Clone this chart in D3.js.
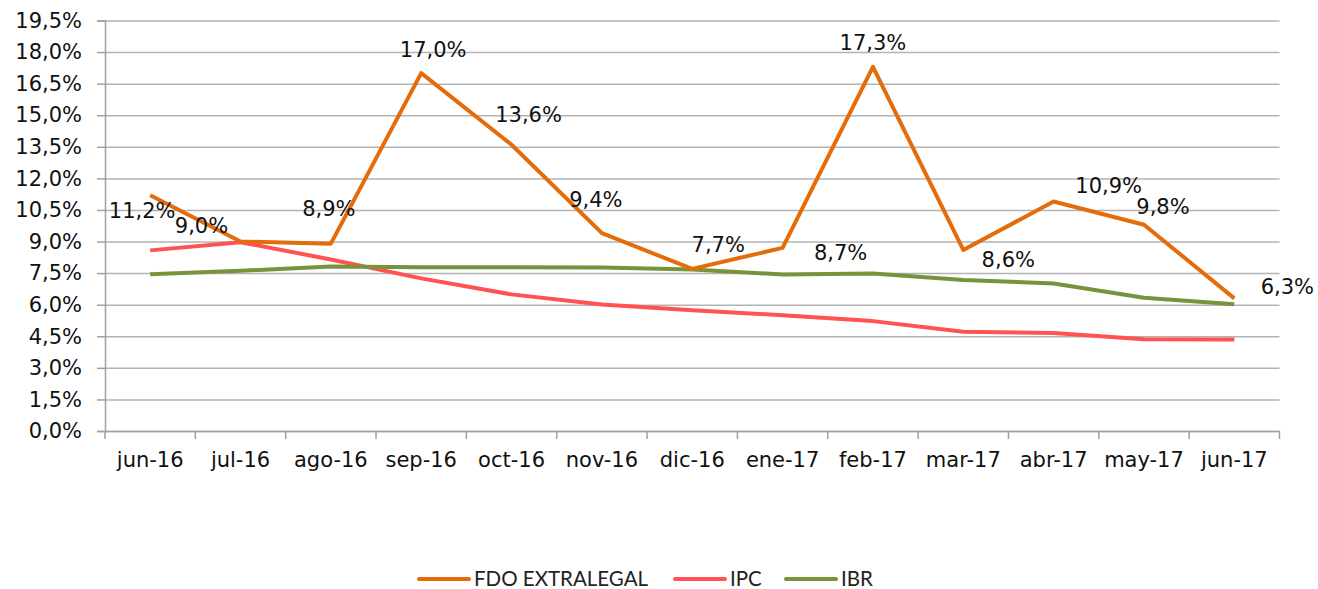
<!DOCTYPE html>
<html>
<head>
<meta charset="utf-8">
<script src="https://cdn.jsdelivr.net/npm/d3@7"></script>
<style>
  html, body { margin: 0; padding: 0; background: #fff; }
  svg { display: block; }
</style>
</head>
<body>
<div id="chart"></div>
<script>
// months on the category axis
const months = ['jun-16', 'jul-16', 'ago-16', 'sep-16', 'oct-16', 'nov-16', 'dic-16',
    'ene-17', 'feb-17', 'mar-17', 'abr-17', 'may-17', 'jun-17'];

// yearly returns / rates, in %
const fdoValues = [11.2, 9.0, 8.9, 17.0, 13.6, 9.4, 7.7, 8.7, 17.3, 8.6, 10.9, 9.8, 6.3];
const ipcValues = [8.58, 8.97, 8.15, 7.25, 6.49, 6.01, 5.74, 5.50, 5.22, 4.71, 4.66, 4.36, 4.35];
const ibrValues = [7.45, 7.61, 7.82, 7.78, 7.78, 7.77, 7.67, 7.44, 7.48, 7.17, 7.01, 6.33, 6.02];

const yTicks = [0, 1.5, 3, 4.5, 6, 7.5, 9, 10.5, 12, 13.5, 15, 16.5, 18, 19.5];

const seriesNames = ['FDO EXTRALEGAL', 'IPC', 'IBR'];
const seriesColors = ['#E46C0A', '#FF5353', '#77933C'];

// hand placed data labels in the original (offset from the point, px)
const labelOffsets = [[-8, 15], [-39, -16], [-2, -35], [12, -23], [17, -30], [-6, -33],
    [26, -24], [58, 5], [0, -24], [45, 10], [55, -16], [19, -18], [53, -12]];

const W = 1318, H = 589;
const margin = { top: 20.5, right: 38.5, bottom: 158, left: 105 };
const iw = W - margin.left - margin.right;
const ih = H - margin.top - margin.bottom;

const fmt = v => v.toFixed(1).replace('.', ',') + '%';
const FONT = "'DejaVu Sans', Verdana, sans-serif";
const FS = 21;

const svg = d3.select('#chart').append('svg')
    .attr('width', W).attr('height', H)
    .style('font-family', FONT);

const g = svg.append('g').attr('transform', `translate(${margin.left},${margin.top})`);

const x = d3.scaleBand().domain(months).range([0, iw]).padding(0);
const y = d3.scaleLinear().domain([0, 19.5]).range([ih, 0]);
const cx = m => x(m) + x.bandwidth() / 2;

// gridlines
g.append('g')
    .call(d3.axisLeft(y).tickValues(yTicks).tickSize(-iw).tickFormat(''))
    .call(a => a.select('.domain').remove())
    .selectAll('line')
    .attr('stroke', '#b3b3b3').attr('stroke-width', 1.5);

// y axis
g.append('g')
    .call(d3.axisLeft(y).tickValues(yTicks).tickSize(8).tickPadding(15).tickFormat(fmt))
    .call(a => a.select('.domain').attr('stroke', '#a0a0a0').attr('stroke-width', 1.5))
    .call(a => a.selectAll('line').attr('stroke', '#a0a0a0').attr('stroke-width', 1.5))
    .call(a => a.selectAll('text')
        .attr('font-family', FONT).attr('font-size', FS).attr('fill', '#111'));

// x axis: labels centred, ticks on band edges
g.append('g')
    .attr('transform', `translate(0,${ih})`)
    .call(d3.axisBottom(x).tickSize(0).tickPadding(21))
    .call(a => a.select('.domain').attr('stroke', '#a0a0a0').attr('stroke-width', 1.5))
    .call(a => a.selectAll('text')
        .attr('font-family', FONT).attr('font-size', FS).attr('fill', '#111'));

g.append('g')
    .selectAll('line')
    .data(months.concat(['end']))
    .join('line')
    .attr('x1', (d, i) => i < months.length ? x(d) : iw)
    .attr('x2', (d, i) => i < months.length ? x(d) : iw)
    .attr('y1', ih).attr('y2', ih + 8)
    .attr('stroke', '#a0a0a0').attr('stroke-width', 1.5);

// lines
const line = d3.line().x((d, i) => cx(months[i])).y(d => y(d));
const allSeries = [fdoValues, ipcValues, ibrValues];

// draw order: IPC, IBR under the fund line
[1, 2, 0].forEach(si => {
    g.append('path')
        .datum(allSeries[si])
        .attr('d', line)
        .attr('fill', 'none')
        .attr('stroke', seriesColors[si])
        .attr('stroke-width', 4)
        .attr('stroke-linejoin', 'round');
});

// data labels of the fund
g.append('g')
    .selectAll('text')
    .data(fdoValues)
    .join('text')
    .attr('x', (d, i) => cx(months[i]) + labelOffsets[i][0])
    .attr('y', (d, i) => y(d) + labelOffsets[i][1])
    .attr('dy', '0.35em')
    .attr('text-anchor', 'middle')
    .attr('font-size', FS)
    .attr('fill', '#111')
    .text(fmt);

// legend
const legendX = [419, 675, 786];
const legend = svg.append('g').attr('transform', 'translate(0,579)');
seriesNames.forEach((name, i) => {
    legend.append('line')
        .attr('x1', legendX[i]).attr('x2', legendX[i] + 50)
        .attr('y1', 0).attr('y2', 0)
        .attr('stroke', seriesColors[i]).attr('stroke-width', 4)
        .attr('stroke-linecap', 'round');
    legend.append('text')
        .attr('x', legendX[i] + 55).attr('y', 0)
        .attr('dy', '0.35em')
        .attr('font-family', "Lato, 'Open Sans', sans-serif")
        .attr('font-size', 20.5)
        .attr('fill', '#222')
        .text(name);
});
</script>
</body>
</html>
